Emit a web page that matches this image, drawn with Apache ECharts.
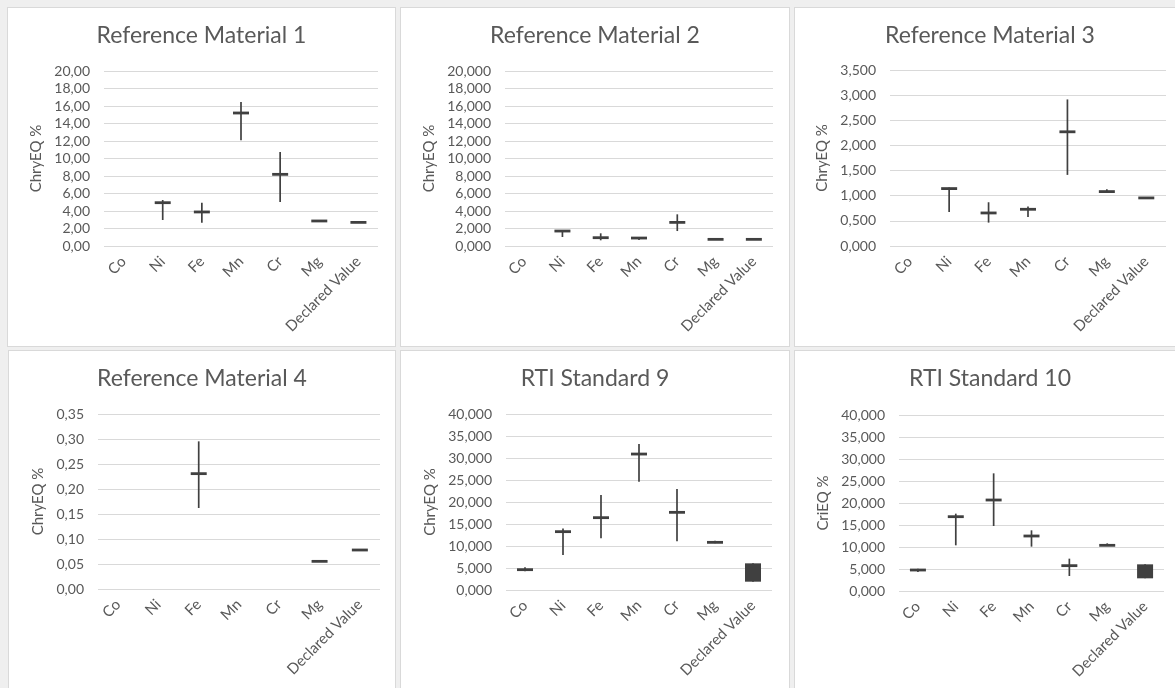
<!DOCTYPE html>
<html>
<head>
<meta charset="utf-8">
<script src="https://cdn.jsdelivr.net/npm/echarts@6/dist/echarts.min.js"></script>
<style>
  html, body { margin: 0; padding: 0; background: #efefef; width: 1175px; height: 688px; overflow: hidden; }
  .panel { position: absolute; background: #ffffff; border: 1px solid #d9d9d9; box-sizing: border-box; }
  .panel .chart { position: absolute; left: 0; top: 0; width: 100%; height: 100%; }
</style>
</head>
<body>
<div class="panel" id="p1" style="left:7px;top:7px;width:389px;height:340px"><div class="chart"></div></div>
<div class="panel" id="p2" style="left:400px;top:7px;width:390px;height:340px"><div class="chart"></div></div>
<div class="panel" id="p3" style="left:794px;top:7px;width:392px;height:340px"><div class="chart"></div></div>
<div class="panel" id="p4" style="left:8px;top:350px;width:388px;height:345px"><div class="chart"></div></div>
<div class="panel" id="p5" style="left:400px;top:350px;width:390px;height:345px"><div class="chart"></div></div>
<div class="panel" id="p6" style="left:794px;top:350px;width:392px;height:345px"><div class="chart"></div></div>
<script>
// Elements measured in every sample
const categories = ['Co', 'Ni', 'Fe', 'Mn', 'Cr', 'Mg', 'Declared Value'];

// Reference Material 1
const rm1Close = [null, 4.95, 3.89, 15.20, 8.19, 2.86, 2.70];
const rm1High  = [null, 5.26, 4.95, 16.46, 10.74, 2.86, 2.70];
const rm1Low   = [null, 2.97, 2.67, 12.08, 5.03, 2.86, 2.70];

// Reference Material 2
const rm2Close = [null, 1.71, 0.95, 0.91, 2.70, 0.76, 0.76];
const rm2High  = [null, 1.80, 1.45, 0.98, 3.62, 0.76, 0.76];
const rm2Low   = [null, 1.03, 0.65, 0.68, 1.71, 0.76, 0.76];

// Reference Material 3
const rm3Close = [null, 1.142, 0.657, 0.730, 2.271, 1.082, 0.956];
const rm3High  = [null, 1.162, 0.870, 0.784, 2.915, 1.129, 0.956];
const rm3Low   = [null, 0.677, 0.465, 0.578, 1.414, 1.065, 0.956];

// Reference Material 4
const rm4Close = [null, null, 0.2307, null, null, 0.0553, 0.078];
const rm4High  = [null, null, 0.2953, null, null, 0.0553, 0.078];
const rm4Low   = [null, null, 0.1620, null, null, 0.0553, 0.078];

// RTI Standard 9
const rti9Open  = [4.62, 13.26, 16.44, 30.90, 17.65, 10.83, 6.06];
const rti9Close = [4.62, 13.26, 16.44, 30.90, 17.65, 10.83, 1.89];
const rti9High  = [5.15, 14.00, 21.60, 33.20, 22.95, 11.20, 6.06];
const rti9Low   = [4.24,  7.95, 11.74, 24.60, 11.06, 10.60, 1.89];

// RTI Standard 10
const rti10Open  = [4.77, 16.89, 20.68, 12.50, 5.76, 10.38, 6.06];
const rti10Close = [4.77, 16.89, 20.68, 12.50, 5.76, 10.38, 2.88];
const rti10High  = [5.08, 17.58, 26.74, 13.79, 7.35, 10.83, 6.06];
const rti10Low   = [4.32, 10.38, 14.77, 10.08, 3.41, 10.23, 2.88];

const FONT = 'Lato';
const TEXT = '#595959';
const INK = '#404040';

function buildData(open, close, low, high) {
  const out = [];
  close.forEach((c, i) => {
    if (c === null) return;
    out.push([i, open[i], c, low[i], high[i]]);
  });
  return out;
}

// High-low line with an open/close body (a flat dash when open equals close)
function renderItem(params, api) {
  const i = api.value(0);
  const pOpen = api.coord([i, api.value(1)]);
  const pClose = api.coord([i, api.value(2)]);
  const pLow = api.coord([i, api.value(3)]);
  const pHigh = api.coord([i, api.value(4)]);
  const w = 16, minH = 2.8;
  let y = Math.min(pOpen[1], pClose[1]);
  let h = Math.abs(pOpen[1] - pClose[1]);
  if (h < minH) { y = (pOpen[1] + pClose[1]) / 2 - minH / 2; h = minH; }
  const children = [];
  if (Math.abs(pLow[1] - pHigh[1]) > 0.5) {
    children.push({
      type: 'line',
      shape: { x1: pLow[0], y1: pLow[1], x2: pHigh[0], y2: pHigh[1] },
      style: { stroke: INK, lineWidth: 1.7 }
    });
  }
  children.push({
    type: 'rect',
    shape: { x: pOpen[0] - w / 2, y: y, width: w, height: h },
    style: { fill: INK }
  });
  return { type: 'group', children: children };
}

function makeChart(id, cfg) {
  const el = document.querySelector('#' + id + ' .chart');
  const chart = echarts.init(el, null, { renderer: 'canvas' });
  chart.setOption({
    animation: false,
    title: {
      text: cfg.title, left: 'center', top: 11,
      textStyle: { fontFamily: FONT, fontSize: 23, fontWeight: 'normal', color: TEXT }
    },
    grid: { left: cfg.grid[0], top: cfg.grid[1], width: cfg.grid[2], height: cfg.grid[3] },
    xAxis: {
      type: 'category', data: categories, boundaryGap: true,
      axisLine: { show: false }, axisTick: { show: false },
      axisLabel: { rotate: 45, margin: 13, interval: 0, fontFamily: FONT, fontSize: 15, color: TEXT }
    },
    yAxis: {
      type: 'value', min: 0, max: cfg.max, interval: cfg.step,
      name: cfg.yName, nameLocation: 'middle', nameGap: cfg.nameGap,
      nameTextStyle: { fontFamily: FONT, fontSize: 15, color: TEXT },
      axisLine: { show: false }, axisTick: { show: false },
      splitLine: { lineStyle: { color: '#d9d9d9', width: 1 } },
      axisLabel: {
        margin: 14, fontFamily: FONT, fontSize: 14, color: TEXT,
        formatter: v => v.toFixed(cfg.decimals).replace('.', ',')
      }
    },
    series: [{
      type: 'custom',
      renderItem: renderItem,
      encode: { x: 0, y: [1, 2, 3, 4] },
      data: buildData(cfg.open, cfg.close, cfg.low, cfg.high)
    }]
  });
}

makeChart('p1', { title: 'Reference Material 1', grid: [96, 63, 274, 175], max: 20, step: 2, decimals: 2,
  yName: 'ChryEQ %', nameGap: 52, open: rm1Close, close: rm1Close, low: rm1Low, high: rm1High });
makeChart('p2', { title: 'Reference Material 2', grid: [104, 63, 268, 175], max: 20, step: 2, decimals: 3,
  yName: 'ChryEQ %', nameGap: 60, open: rm2Close, close: rm2Close, low: rm2Low, high: rm2High });
makeChart('p3', { title: 'Reference Material 3', grid: [95, 62, 276, 176], max: 3.5, step: 0.5, decimals: 3,
  yName: 'ChryEQ %', nameGap: 51, open: rm3Close, close: rm3Close, low: rm3Low, high: rm3High });
makeChart('p4', { title: 'Reference Material 4', grid: [89, 63, 282, 175], max: 0.35, step: 0.05, decimals: 2,
  yName: 'ChryEQ %', nameGap: 46, open: rm4Close, close: rm4Close, low: rm4Low, high: rm4High });
makeChart('p5', { title: 'RTI Standard 9', grid: [105, 63, 266, 176], max: 40, step: 5, decimals: 3,
  yName: 'ChryEQ %', nameGap: 62, open: rti9Open, close: rti9Close, low: rti9Low, high: rti9High });
makeChart('p6', { title: 'RTI Standard 10', grid: [104, 64, 265, 176], max: 40, step: 5, decimals: 3,
  yName: 'CriEQ %', nameGap: 62, open: rti10Open, close: rti10Close, low: rti10Low, high: rti10High });
</script>
</body>
</html>
